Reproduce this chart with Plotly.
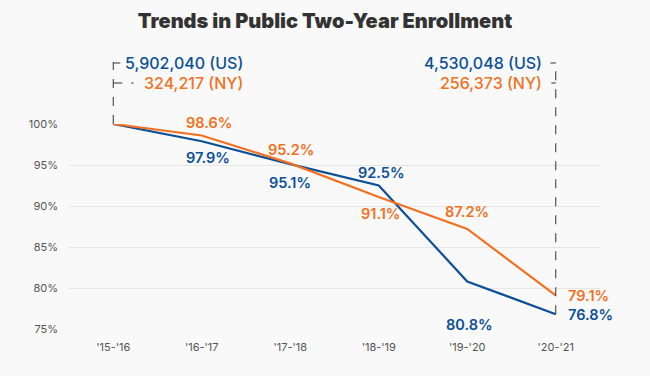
import plotly.graph_objects as go

years = ["'15-'16", "'16-'17", "'17-'18", "'18-'19", "'19-'20", "'20-'21"]
us_pct = [100, 97.9, 95.1, 92.5, 80.8, 76.8]
ny_pct = [100, 98.6, 95.2, 91.1, 87.2, 79.1]
start_counts = ["5,902,040 (US)", "324,217 (NY)"]
end_counts = ["4,530,048 (US)", "256,373 (NY)"]
y_ticks = [75, 80, 85, 90, 95, 100]

BLUE = "#0b4f96"
ORANGE = "#f37021"
FONT = "Inter"
YMIN, YMAX = 75, 100

fig = go.Figure()
fig.add_trace(go.Scatter(x=list(range(len(years))), y=us_pct, mode="lines",
                         line=dict(color=BLUE, width=2.2), hoverinfo="skip"))
fig.add_trace(go.Scatter(x=list(range(len(years))), y=ny_pct, mode="lines",
                         line=dict(color=ORANGE, width=2.2), hoverinfo="skip"))

# label offsets (xshift, yshift) in pixels; "R" = placed right of the point
us_off = [None, (6, -16), (0, -18), (2, 13.5), (2, -43), "R"]
ny_off = [None, (7, 12.5), (1, 14), (2, -17), (0, 17), "R"]

def add_label(i, v, off, color):
    if off is None:
        return
    kw = dict(x=i, y=v, xref="x", yref="y", text=f"{v:.1f}%", showarrow=False,
              font=dict(family=FONT, size=14.5, color=color, weight=600))
    if off == "R":
        kw.update(xanchor="left", xshift=10, yanchor="middle")
    else:
        kw.update(xanchor="center", yanchor="middle", xshift=off[0], yshift=off[1])
    fig.add_annotation(**kw)

for i in range(len(years)):
    add_label(i, us_pct[i], us_off[i], BLUE)
    add_label(i, ny_pct[i], ny_off[i], ORANGE)

def py(v):
    return (v - YMIN) / (YMAX - YMIN)

top_us = 1.2976
top_ny = 1.2
dash = dict(color="#333", width=1, dash="dash")
last = len(years) - 1
# left bracket
fig.add_shape(type="line", xref="x", yref="paper", x0=0, x1=0, y0=py(us_pct[0]), y1=top_us + 0.005, line=dash)
fig.add_shape(type="line", xref="x", yref="paper", x0=0, x1=0.08, y0=top_us, y1=top_us, line=dash)
fig.add_shape(type="line", xref="x", yref="paper", x0=0, x1=0.23, y0=top_ny, y1=top_ny, line=dash)
# right bracket
fig.add_shape(type="line", xref="x", yref="paper", x0=last, x1=last, y0=py(us_pct[-1]), y1=top_us + 0.005, line=dash)
fig.add_shape(type="line", xref="x", yref="paper", x0=last - 0.06, x1=last, y0=top_us, y1=top_us, line=dash)
fig.add_shape(type="line", xref="x", yref="paper", x0=last - 0.05, x1=last, y0=top_ny, y1=top_ny, line=dash)

for txt, yy, col in [(start_counts[0], top_us, BLUE), (start_counts[1], top_ny, ORANGE)]:
    fig.add_annotation(x=1.49, y=yy, xref="x", yref="paper", text=txt, showarrow=False,
                       xanchor="right", yanchor="middle",
                       font=dict(family=FONT, size=16, color=col, weight=500))
for txt, yy, col in [(end_counts[0], top_us, BLUE), (end_counts[1], top_ny, ORANGE)]:
    fig.add_annotation(x=4.865, y=yy, xref="x", yref="paper", text=txt, showarrow=False,
                       xanchor="right", yanchor="middle",
                       font=dict(family=FONT, size=16, color=col, weight=500))

fig.update_layout(
    width=650, height=376,
    paper_bgcolor="#f9f9f9", plot_bgcolor="#f9f9f9",
    margin=dict(l=69, r=50, t=124, b=47),
    showlegend=False,
    title=dict(text="Trends in Public Two-Year Enrollment", x=0.5, xanchor="center",
               y=1 - 21 / 376, yanchor="middle",
               font=dict(family=FONT, size=20, color="#333", weight=900)),
    xaxis=dict(range=[-0.5, last + 0.5], tickmode="array", tickvals=list(range(len(years))),
               ticktext=years, showgrid=False, zeroline=False, showline=False,
               tickfont=dict(family=FONT, size=11, color="#555"), ticklabelstandoff=10),
    yaxis=dict(range=[YMIN, YMAX], tickmode="array", tickvals=y_ticks,
               ticktext=[f"{t}%" for t in y_ticks], showgrid=True, gridcolor="#e6e6e6",
               gridwidth=1, zeroline=False, showline=False,
               tickfont=dict(family=FONT, size=11, color="#555"), ticklabelstandoff=10),
)

fig.write_html("out.html", config={"displayModeBar": False},
               post_script="document.body.style.margin='0';document.body.style.background='#f9f9f9';")
